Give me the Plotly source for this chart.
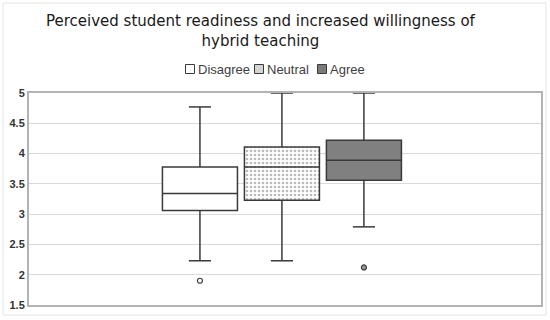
import plotly.graph_objects as go

series = ["Disagree", "Neutral", "Agree"]
lower_whisker = [2.23, 2.23, 2.79]
q1_vals = [3.06, 3.23, 3.56]
median_vals = [3.34, 3.78, 3.89]
q3_vals = [3.78, 4.11, 4.22]
upper_whisker = [4.77, 5.0, 5.0]
outliers = [[1.90], [], [2.12]]
y_ticks = [1.5, 2, 2.5, 3, 3.5, 4, 4.5, 5]
title_text = "Perceived student readiness and increased willingness of<br>hybrid teaching"

fills = ["#ffffff", "#ffffff", "#808080"]
patterns = ["", ".", ""]
legend_fills = ["#ffffff", "#d4d4d4", "#7a7a7a"]
outlier_fill = ["#ffffff", "#ffffff", "#9a9a9a"]
line_col = "#3a3a3a"
box_w = 0.915
cap_w = 0.27

fig = go.Figure()
for i, name in enumerate(series):
    pos = i - 1
    fig.add_trace(go.Bar(
        x=[pos], y=[q3_vals[i] - q1_vals[i]], base=[q1_vals[i]], width=box_w,
        name=name, showlegend=False,
        marker=dict(color=fills[i], line=dict(color=line_col, width=1.5),
                    pattern=dict(shape=patterns[i], fgcolor="#777777", bgcolor="#ffffff",
                                 size=4, solidity=0.35)),
        hoverinfo="skip",
    ))
for i, name in enumerate(series):
    pos = i - 1
    xs, ys = [], []
    xs += [pos - box_w / 2, pos + box_w / 2, None]; ys += [median_vals[i]] * 2 + [None]
    xs += [pos, pos, None]; ys += [q3_vals[i], upper_whisker[i], None]
    xs += [pos - cap_w / 2, pos + cap_w / 2, None]; ys += [upper_whisker[i]] * 2 + [None]
    xs += [pos, pos, None]; ys += [q1_vals[i], lower_whisker[i], None]
    xs += [pos - cap_w / 2, pos + cap_w / 2, None]; ys += [lower_whisker[i]] * 2 + [None]
    fig.add_trace(go.Scatter(x=xs, y=ys, mode="lines", line=dict(color=line_col, width=1.5),
                             showlegend=False, hoverinfo="skip"))
    if outliers[i]:
        fig.add_trace(go.Scatter(x=[pos] * len(outliers[i]), y=outliers[i], mode="markers",
                                 marker=dict(symbol="circle", size=5, color=outlier_fill[i],
                                             line=dict(color=line_col, width=1.2)),
                                 showlegend=False, hoverinfo="skip"))

L, R, T, B = 29, 9, 93, 15
pw, ph = 550 - L - R, 320 - T - B


def px_x(p):
    return (p - L) / pw


def px_y(p):
    return (320 - B - p) / ph


# outer chart frame
fig.add_shape(type="rect", xref="paper", yref="paper",
              x0=px_x(3), x1=px_x(546), y0=px_y(315), y1=px_y(3),
              line=dict(color="#e3e3e3", width=1), layer="below")

# title
fig.add_annotation(text=title_text, xref="paper", yref="paper", x=px_x(261), y=px_y(30.5),
                   xanchor="center", yanchor="middle", showarrow=False,
                   font=dict(family="DejaVu Sans", size=15, color="#1a1a1a"))

# compact legend
leg_x = [190, 259, 322]
for i, name in enumerate(series):
    x0 = leg_x[i]
    fig.add_shape(type="rect", xref="paper", yref="paper",
                  x0=px_x(x0 - 4.5), x1=px_x(x0 + 4.5), y0=px_y(73.5), y1=px_y(64.5),
                  fillcolor=legend_fills[i], line=dict(color=line_col, width=1))
    fig.add_annotation(text=name, xref="paper", yref="paper", x=px_x(x0 + 6), y=px_y(69),
                       xanchor="left", yanchor="middle", showarrow=False,
                       font=dict(family="Liberation Sans", size=13, color="#404040"))

fig.update_layout(
    width=550, height=320,
    margin=dict(l=L, r=R, t=T, b=B, autoexpand=False),
    paper_bgcolor="white", plot_bgcolor="white",
    barmode="overlay",
    showlegend=False,
)
fig.update_xaxes(range=[-3.085, 3.16], showticklabels=False, showgrid=False, zeroline=False,
                 showline=True, mirror=True, linecolor="#b3b3b3", linewidth=2, ticks="")
fig.update_yaxes(range=[1.5, 5], tickvals=y_ticks, ticktext=[f"{v:g}" for v in y_ticks],
                 showgrid=True, gridcolor="#d9d9d9", gridwidth=1, zeroline=False,
                 showline=True, mirror=True, linecolor="#b3b3b3", linewidth=2,
                 tickfont=dict(family="Liberation Sans", size=11, color="#333333", weight="bold"),
                 ticks="", ticklen=0)

fig.write_html("out.html", post_script="document.body.style.margin='0';",
               config={"displayModeBar": False})
